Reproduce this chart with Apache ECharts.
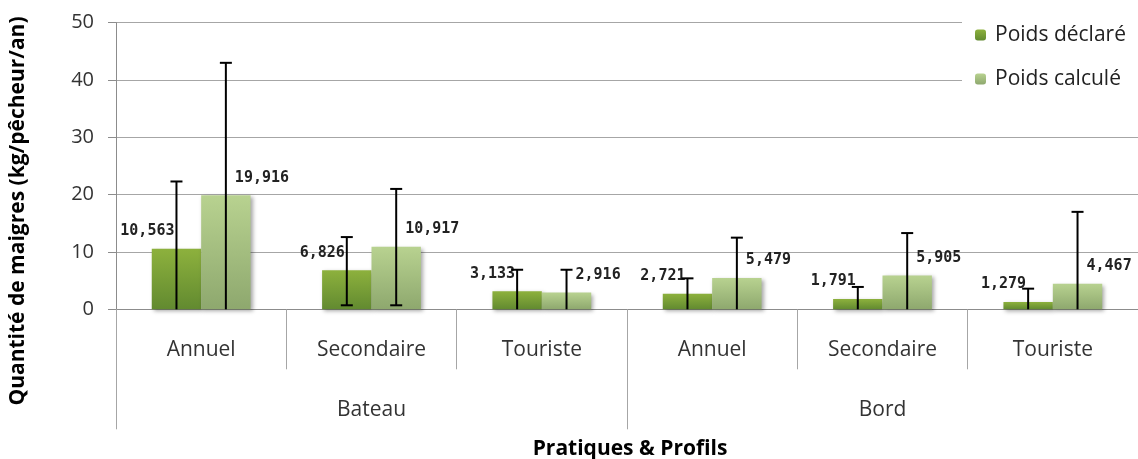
<!DOCTYPE html>
<html lang="fr" style="height: 100%">
<head>
  <meta charset="utf-8">
</head>
<body style="height: 100%; margin: 0; background-color:#ffffff;">
  <div id="container" style="height: 100%"></div>

<script src="https://fastly.jsdelivr.net/npm/echarts@6/dist/echarts.min.js"></script>

<script>
  var dom = document.getElementById('container');
  var myChart = echarts.init(dom);

  var profils = ['Annuel', 'Secondaire', 'Touriste', 'Annuel', 'Secondaire', 'Touriste'];
  var pratiques = ['Bateau', 'Bord'];
  var yTicks = [0, 10, 20, 30, 40, 50];

  var poidsDeclare = [10.563, 6.826, 3.133, 2.721, 1.791, 1.279];
  var poidsCalcule = [19.916, 10.917, 2.916, 5.479, 5.905, 4.467];

  // bornes des barres d'erreur
  var declareBas = [0, 0.7, 0, 0, 0, 0];
  var declareHaut = [22.3, 12.6, 6.9, 5.4, 3.9, 3.6];
  var calculeBas = [0, 0.7, 0, 0, 0, 0];
  var calculeHaut = [43, 21.0, 6.9, 12.5, 13.3, 17.0];

  var font = '"Open Sans", sans-serif';

  function fmt(v) {
    return v.toFixed(3).replace('.', ',');
  }

  function errData(lo, hi) {
    return lo.map(function (l, i) { return [i, l, hi[i]]; });
  }

  function errRender(shift) {
    return function (params, api) {
      var idx = api.value(0);
      var low = api.value(1);
      var p0 = api.coord([idx, low]);
      var p1 = api.coord([idx, api.value(2)]);
      var x = p0[0] + api.size([1, 0])[0] * shift;
      var cap = 6;
      var st = { stroke: '#000', lineWidth: 2 };
      var kids = [
        { type: 'line', shape: { x1: x, y1: p0[1], x2: x, y2: p1[1] }, style: st },
        { type: 'line', shape: { x1: x - cap, y1: p1[1], x2: x + cap, y2: p1[1] }, style: st }
      ];
      if (low > 0) {
        kids.push({ type: 'line', shape: { x1: x - cap, y1: p0[1], x2: x + cap, y2: p0[1] }, style: st });
      }
      return { type: 'group', children: kids };
    };
  }

  var barShadow = {
    shadowBlur: 4,
    shadowColor: 'rgba(0, 0, 0, 0.35)',
    shadowOffsetX: 2,
    shadowOffsetY: 2
  };

  var dataLabel = {
    show: true,
    position: 'top',
    distance: 10,
    formatter: function (p) { return fmt(p.value); },
    fontFamily: '"DejaVu Sans Mono", monospace',
    fontSize: 15,
    fontWeight: 'bold',
    color: '#222'
  };

  var option = {
    animation: false,
    grid: { left: 116, right: 0, top: 22.7, bottom: 149.7, containLabel: false },
    legend: {
      orient: 'vertical',
      left: 962,
      top: 12,
      padding: [12, 20, 12, 13],
      backgroundColor: '#fff',
      itemWidth: 11,
      itemHeight: 11,
      itemGap: 22,
      data: ['Poids déclaré', 'Poids calculé'],
      textStyle: { fontFamily: font, fontSize: 21, color: '#222', lineHeight: 22, padding: [0, 0, 0, 4] }
    },
    xAxis: [{
      type: 'category',
      data: profils,
      axisLine: { show: true, lineStyle: { color: '#8c8c8c' } },
      axisTick: { show: true, interval: 0, length: 60, lineStyle: { color: '#a6a6a6' } },
      axisLabel: { interval: 0, margin: 30, fontFamily: font, fontSize: 21, color: '#333' }
    }, {
      type: 'category',
      data: pratiques,
      position: 'bottom',
      axisLine: { show: true, lineStyle: { color: 'rgba(0,0,0,0)' } },
      axisTick: { show: true, interval: 0, length: 120, lineStyle: { color: '#a6a6a6' } },
      axisLabel: { interval: 0, margin: 90, fontFamily: font, fontSize: 21, color: '#333' }
    }],
    yAxis: {
      type: 'value',
      min: yTicks[0],
      max: yTicks[yTicks.length - 1],
      interval: 10,
      axisLine: { show: true, lineStyle: { color: '#8c8c8c' } },
      axisTick: { show: true, length: 8, lineStyle: { color: '#8c8c8c' } },
      axisLabel: { margin: 22, fontFamily: font, fontSize: 20, color: '#333' },
      splitLine: { lineStyle: { color: '#a6a6a6' } }
    },
    graphic: [{
      type: 'text',
      x: 18,
      y: 211,
      rotation: Math.PI / 2,
      style: {
        text: 'Quantité de maigres (kg/pêcheur/an)',
        fontFamily: font,
        fontSize: 21,
        fontWeight: 'bold',
        fill: '#000',
        align: 'center',
        verticalAlign: 'middle'
      }
    }, {
      type: 'text',
      x: 630,
      y: 449,
      style: {
        text: 'Pratiques & Profils',
        fontFamily: font,
        fontSize: 21,
        fontWeight: 'bold',
        fill: '#000',
        align: 'center',
        verticalAlign: 'middle'
      }
    }],
    series: [{
      name: 'Poids déclaré',
      type: 'bar',
      barWidth: '29%',
      barGap: '0%',
      data: poidsDeclare,
      itemStyle: Object.assign({
        color: new echarts.graphic.LinearGradient(0, 0, 0, 1, [
          { offset: 0, color: '#8db13d' },
          { offset: 1, color: '#628a30' }
        ])
      }, barShadow),
      label: Object.assign({ align: 'right', offset: [-2, 0] }, dataLabel)
    }, {
      name: 'Poids calculé',
      type: 'bar',
      barWidth: '29%',
      barGap: '0%',
      data: poidsCalcule,
      itemStyle: Object.assign({
        color: new echarts.graphic.LinearGradient(0, 0, 0, 1, [
          { offset: 0, color: '#b8d290' },
          { offset: 1, color: '#8ea86e' }
        ])
      }, barShadow),
      label: Object.assign({ align: 'left', offset: [9, 0] }, dataLabel)
    }, {
      type: 'custom',
      renderItem: errRender(-0.145),
      encode: { x: 0, y: [1, 2] },
      data: errData(declareBas, declareHaut),
      z: 5
    }, {
      type: 'custom',
      renderItem: errRender(0.145),
      encode: { x: 0, y: [1, 2] },
      data: errData(calculeBas, calculeHaut),
      z: 5
    }]
  };

  myChart.setOption(option);

  window.addEventListener('resize', myChart.resize);
</script>

</body>
</html>
